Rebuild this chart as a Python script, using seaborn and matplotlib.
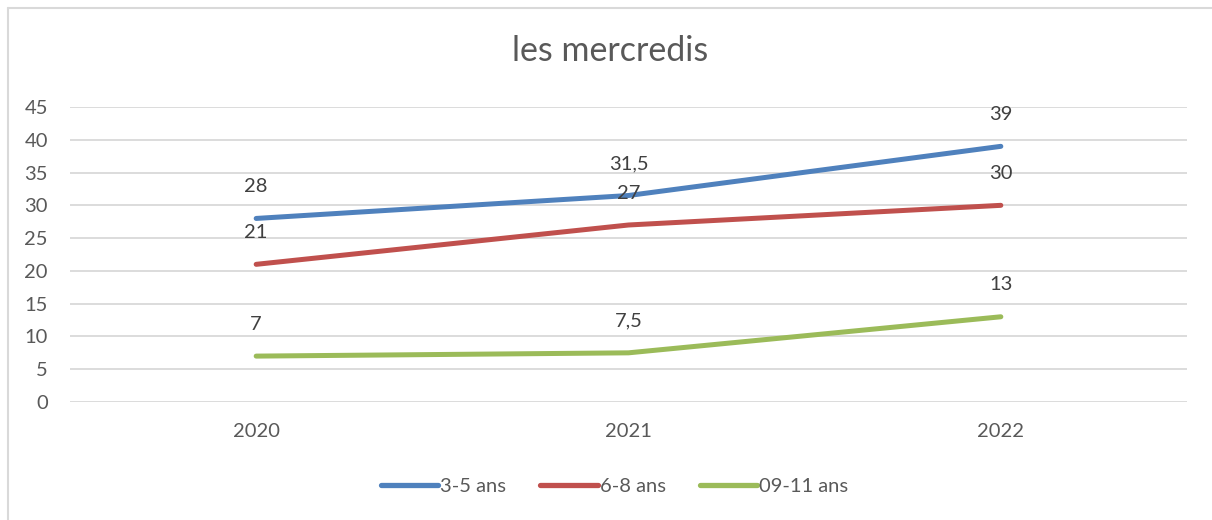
import matplotlib
matplotlib.use("Agg")
import matplotlib.pyplot as plt
from matplotlib.lines import Line2D
import pandas as pd
import seaborn as sns

# data
years = ["2020", "2021", "2022"]
series_names = ["3-5 ans", "6-8 ans", "09-11 ans"]
vals_3_5 = [28, 31.5, 39]
vals_6_8 = [21, 27, 30]
vals_9_11 = [7, 7.5, 13]
colors = ["#4F81BD", "#C0504D", "#9BBB59"]
yticks = [0, 5, 10, 15, 20, 25, 30, 35, 40, 45]

df = pd.DataFrame({
    "annee": years * 3,
    "serie": [s for s in series_names for _ in years],
    "valeur": vals_3_5 + vals_6_8 + vals_9_11,
})
df["x"] = df["annee"].map({y: i for i, y in enumerate(years)})

sns.set_style("white")
plt.rcParams["font.family"] = ["Lato", "DejaVu Sans"]

fig = plt.figure(figsize=(12.12, 5.2), dpi=100)
ax = fig.add_axes([70 / 1212, (520 - 402) / 520, (1187 - 70) / 1212, (402 - 107) / 520])

sns.lineplot(data=df, x="x", y="valeur", hue="serie", palette=colors,
             linewidth=3.6, ax=ax, legend=False, solid_capstyle="round")

# data labels above each point
for _, row in df.iterrows():
    lbl = f"{row['valeur']:g}".replace(".", ",")
    ax.annotate(lbl, (row["x"], row["valeur"]), xytext=(0, 23),
                textcoords="offset points", ha="center", va="center",
                fontsize=14.5, color="#404040")

ax.set_xlim(-0.5, 2.5)
ax.set_ylim(0, 45)
ax.set_yticks(yticks)
ax.set_xticks(range(len(years)))
ax.set_xticklabels(years)
ax.grid(axis="y", color="#D9D9D9", linewidth=1.3)
ax.set_axisbelow(True)
for sp in ax.spines.values():
    sp.set_visible(False)
ax.tick_params(axis="both", length=0, labelsize=14.5, labelcolor="#595959")
ax.tick_params(axis="y", pad=16)
ax.tick_params(axis="x", pad=15)
ax.set_xlabel("")
ax.set_ylabel("")

fig.text(0.503, (520 - 51) / 520, "les mercredis", ha="center", va="center",
         fontsize=24.5, color="#595959")

handles = [Line2D([], [], color=c, linewidth=3.8, solid_capstyle="round") for c in colors]
fig.legend(handles, series_names, loc="center", bbox_to_anchor=(0.507, (520 - 486) / 520),
           ncol=3, frameon=False, fontsize=14.5, handlelength=2.85, handletextpad=0.1,
           columnspacing=1.7, labelcolor="#595959")

# chart frame (only top and left visible in the crop)
fig.add_artist(Line2D([8 / 1212, 8 / 1212], [0, 1 - 8 / 520], color="#D9D9D9", linewidth=1.5))
fig.add_artist(Line2D([8 / 1212, 1], [1 - 8 / 520, 1 - 8 / 520], color="#D9D9D9", linewidth=1.5))

fig.savefig("out.png", dpi=100)
